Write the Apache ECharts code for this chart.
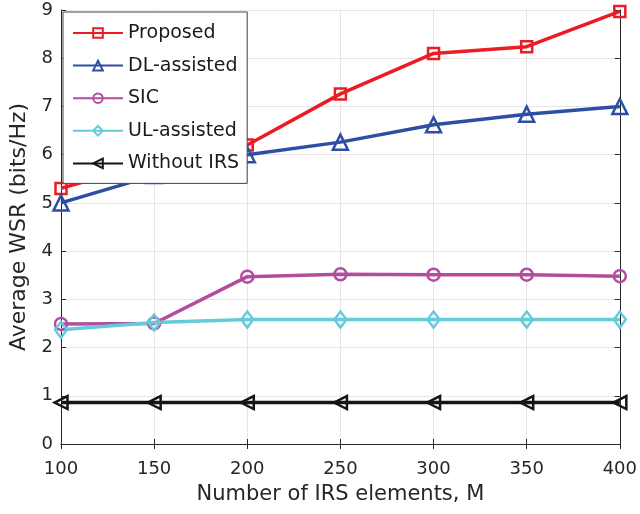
<!DOCTYPE html>
<html><head><meta charset="utf-8">
<script src="https://cdn.jsdelivr.net/npm/echarts@6/dist/echarts.min.js"></script>
<style>html,body{margin:0;padding:0;background:#fff}#c{width:640px;height:514px}</style>
</head><body><div id="c"></div>
<script>
const xValues = [100, 150, 200, 250, 300, 350, 400];
const proposed = [5.3, 5.85, 6.2, 7.26, 8.1, 8.24, 8.97];
const dlAssisted = [5.0, 5.57, 6.0, 6.26, 6.62, 6.84, 7.0];
const sic = [2.49, 2.5, 3.47, 3.52, 3.51, 3.51, 3.48];
const ulAssisted = [2.37, 2.52, 2.58, 2.58, 2.58, 2.58, 2.58];
const withoutIRS = [0.86, 0.86, 0.86, 0.86, 0.86, 0.86, 0.86];
const seriesNames = ['Proposed', 'DL-assisted', 'SIC', 'UL-assisted', 'Without IRS'];
const xTicks = [100, 150, 200, 250, 300, 350, 400];
const yTicks = [0, 1, 2, 3, 4, 5, 6, 7, 8, 9];

const font = '"DejaVu Sans", sans-serif';
const axisColor = '#262626';
const chart = echarts.init(document.getElementById('c'));

function mk(name, data, color, symbol, size) {
  return {
    name, type: 'line', data: xValues.map((x, i) => [x, data[i]]),
    symbol, symbolSize: size,
    lineStyle: { color, width: 3.5 },
    itemStyle: { color: 'rgba(255,255,255,0)', borderColor: color, borderWidth: 2.5 },
    emphasis: { disabled: true }, animation: false, z: 3
  };
}

const leftTri = 'path://M0,5 L10,0 L10,10 Z';

const axisCommon = {
  axisLine: { show: true, lineStyle: { color: axisColor, width: 1 } },
  axisTick: { show: true, inside: true, length: 5, lineStyle: { color: axisColor } },
};

chart.setOption({
  backgroundColor: '#fff',
  animation: false,
  grid: { left: 61, right: 18, top: 10, bottom: 70 },
  legend: {
    orient: 'vertical', left: 63, top: 12,
    data: seriesNames,
    backgroundColor: '#fff', borderColor: '#444', borderWidth: 1,
    padding: [11, 8, 10, 9], itemWidth: 50, itemHeight: 12, itemGap: 12.6,
    textStyle: { fontFamily: font, fontSize: 19, lineHeight: 20, color: '#1a1a1a' },
    z: 10
  },
  xAxis: [{
    type: 'value', min: 100, max: 400, interval: 50,
    name: 'Number of IRS elements, M', nameLocation: 'middle', nameGap: 40,
    nameTextStyle: { fontFamily: font, fontSize: 21, color: axisColor },
    ...axisCommon,
    axisLabel: { fontFamily: font, fontSize: 18, color: axisColor, margin: 16 },
    splitLine: { show: true, lineStyle: { color: '#e6e6e6', width: 1 } }
  }, {
    type: 'value', min: 100, max: 400, interval: 50, position: 'top',
    ...axisCommon, axisLabel: { show: false }, splitLine: { show: false }
  }],
  yAxis: [{
    type: 'value', min: 0, max: 9, interval: 1,
    name: 'Average WSR (bits/Hz)', nameLocation: 'middle', nameGap: 26,
    nameTextStyle: { fontFamily: font, fontSize: 22, color: axisColor },
    ...axisCommon,
    axisLabel: { fontFamily: font, fontSize: 18, color: axisColor, margin: 8 },
    splitLine: { show: true, lineStyle: { color: '#e6e6e6', width: 1 } }
  }, {
    type: 'value', min: 0, max: 9, interval: 1, position: 'right',
    ...axisCommon, axisLabel: { show: false }, splitLine: { show: false }
  }],
  series: [
    mk(seriesNames[0], proposed, '#ec1c24', 'rect', 11),
    mk(seriesNames[1], dlAssisted, '#2c4ea3', 'triangle', 15),
    mk(seriesNames[2], sic, '#b44d9f', 'circle', 12),
    mk(seriesNames[3], ulAssisted, '#67cadb', 'diamond', [12, 16]),
    mk(seriesNames[4], withoutIRS, '#151515', leftTri, 13)
  ]
});
</script></body></html>
